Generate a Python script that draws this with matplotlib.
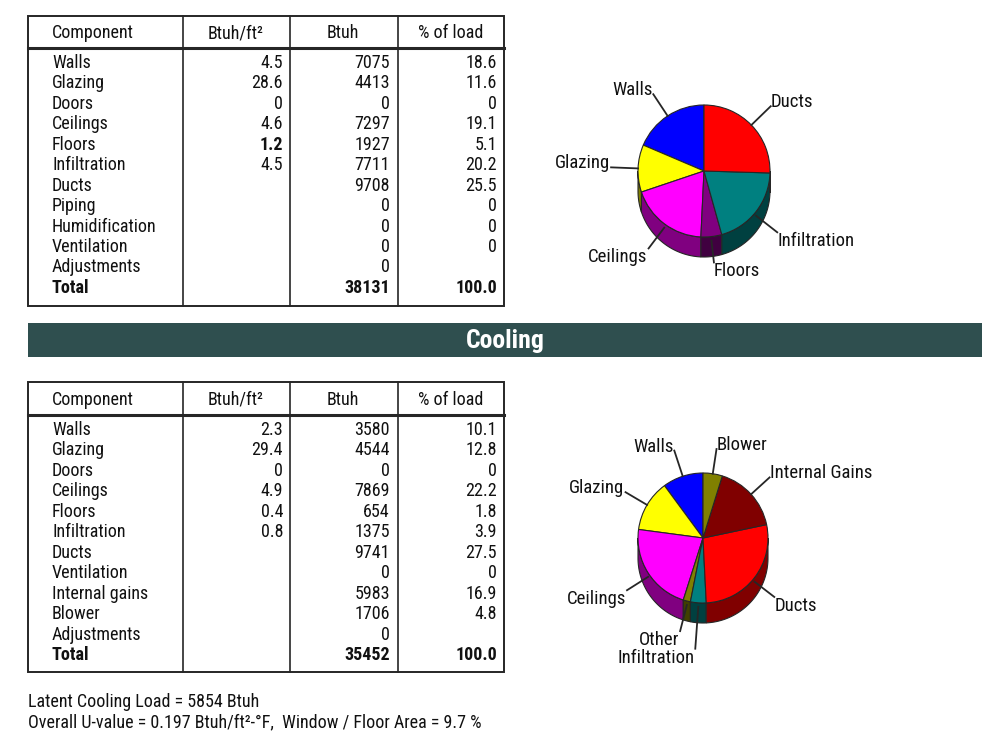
import numpy as np
import matplotlib
matplotlib.use('Agg')
import matplotlib.pyplot as plt
from matplotlib import font_manager
from matplotlib.colors import to_rgb
from matplotlib.patches import Rectangle, Polygon

W, H = 1000, 750

# --- heating table ---
heat_components = ['Walls', 'Glazing', 'Doors', 'Ceilings', 'Floors', 'Infiltration',
                   'Ducts', 'Piping', 'Humidification', 'Ventilation', 'Adjustments']
heat_btuh_ft2 = [4.5, 28.6, 0, 4.6, 1.2, 4.5, None, None, None, None, None]
heat_btuh = [7075, 4413, 0, 7297, 1927, 7711, 9708, 0, 0, 0, 0]
heat_pct = [18.6, 11.6, 0, 19.1, 5.1, 20.2, 25.5, 0, 0, 0, None]
heat_total_btuh = 38131
heat_total_pct = 100.0

# --- cooling table ---
cool_components = ['Walls', 'Glazing', 'Doors', 'Ceilings', 'Floors', 'Infiltration',
                   'Ducts', 'Ventilation', 'Internal gains', 'Blower', 'Adjustments']
cool_btuh_ft2 = [2.3, 29.4, 0, 4.9, 0.4, 0.8, None, None, None, None, None]
cool_btuh = [3580, 4544, 0, 7869, 654, 1375, 9741, 0, 5983, 1706, 0]
cool_pct = [10.1, 12.8, 0, 22.2, 1.8, 3.9, 27.5, 0, 16.9, 4.8, None]
cool_total_btuh = 35452
cool_total_pct = 100.0

# --- pies ---
heat_pie_labels = ['Walls', 'Glazing', 'Ceilings', 'Floors', 'Infiltration', 'Ducts']
heat_pie_values = [18.6, 11.6, 19.1, 5.1, 20.2, 25.5]
heat_pie_colors = ['#0000FF', '#FFFF00', '#FF00FF', '#800080', '#008080', '#FF0000']

cool_pie_labels = ['Walls', 'Glazing', 'Ceilings', 'Other', 'Infiltration', 'Ducts',
                   'Internal Gains', 'Blower']
cool_pie_values = [10.1, 12.8, 22.2, 1.8, 3.9, 27.5, 16.9, 4.8]
cool_pie_colors = ['#0000FF', '#FFFF00', '#FF00FF', '#808000', '#008080', '#FF0000',
                   '#800000', '#808000']

latent_load = 5854
u_value = 0.197
window_floor_pct = 9.7

# fonts: a narrow sans if there is one
names = {f.name for f in font_manager.fontManager.ttflist}
FONT, FS = 'Liberation Sans', 11.5
for fam, size in [('Roboto Condensed', 13), ('PT Sans Narrow', 14),
                  ('Archivo Narrow', 13)]:
    if fam in names:
        FONT, FS = fam, size
        break
plt.rcParams['font.family'] = [FONT, 'DejaVu Sans']

EDGE = '#262626'
INK = '#111111'


def Y(py):
    return H - py


def fmt(v, dec=True):
    if v is None:
        return ''
    if v == 0:
        return '0'
    return '{:.1f}'.format(v) if dec else '{:d}'.format(v)


def draw_table(ax, top, bottom, sep_y, head_y, row0, step,
               comps, per_ft2, btuh, pct, total_btuh, total_pct, bold_ft2=()):
    left, right = 28, 504
    cols = [183, 290, 398]
    ax.add_patch(Rectangle((left, Y(bottom)), right - left, bottom - top,
                           fill=False, ec=EDGE, lw=1.4))
    for c in cols:
        ax.plot([c, c], [Y(top), Y(bottom)], color=EDGE, lw=1.2)
    ax.plot([left, right], [Y(sep_y), Y(sep_y)], color=EDGE, lw=2.2)

    kw = dict(va='center', fontsize=FS, color=INK)
    ax.text(52, Y(head_y), 'Component', ha='left', **kw)
    for x, h in zip([236, 343, 451], ['Btuh/ft²', 'Btuh', '% of load']):
        ax.text(x, Y(head_y), h, ha='center', **kw)

    right_x = [283, 390, 497]
    for i, name in enumerate(comps):
        y = Y(row0 + i * step)
        ax.text(52, y, name, ha='left', **kw)
        ax.text(right_x[0], y, fmt(per_ft2[i]), ha='right',
                fontweight='bold' if name in bold_ft2 else 'normal', **kw)
        ax.text(right_x[1], y, fmt(btuh[i], dec=False), ha='right', **kw)
        ax.text(right_x[2], y, fmt(pct[i]), ha='right', **kw)
    y = Y(row0 + len(comps) * step)
    ax.text(52, y, 'Total', ha='left', fontweight='bold', **kw)
    ax.text(right_x[1], y, str(total_btuh), ha='right', fontweight='bold', **kw)
    ax.text(right_x[2], y, '{:.1f}'.format(total_pct), ha='right', fontweight='bold', **kw)


def darken(col, f=0.5):
    r, g, b = to_rgb(col)
    return (r * f, g * f, b * f)


def pie3d(ax, cx, cy, r, depth, values, colors, labels, line_lens):
    total = float(sum(values))
    spans = []
    a = 90.0
    for v in values:
        spans.append((a, a + 360.0 * v / total))
        a += 360.0 * v / total

    # visible side of the disc (lower half only)
    for (a1, a2), col in zip(spans, colors):
        lo, hi = max(a1, 180.0), min(a2, 360.0)
        if hi <= lo:
            continue
        t = np.radians(np.linspace(lo, hi, 60))
        xs = cx + r * np.cos(t)
        ys = Y(cy) + r * np.sin(t)
        pts = np.column_stack([np.r_[xs, xs[::-1]], np.r_[ys, ys[::-1] - depth]])
        ax.add_patch(Polygon(pts, closed=True, fc=darken(col), ec=EDGE, lw=0.8))

    ax.pie(values, colors=colors, startangle=90, counterclock=True,
           center=(cx, Y(cy)), radius=r, frame=True,
           wedgeprops=dict(edgecolor=EDGE, linewidth=0.8))

    for (a1, a2), lab, L in zip(spans, labels, line_lens):
        m = np.radians((a1 + a2) / 2.0)
        c, s = np.cos(m), np.sin(m)
        x0 = cx + r * c
        y0 = Y(cy) + r * s - (4 if s < 0 else 0)
        x1, y1 = x0 + L * c, y0 + L * s
        ax.plot([x0, x1], [y0, y1], color=EDGE, lw=1.3)
        ty = y1 + 4 if s > 0 else y1 - 9
        ax.text(x1 + (-1 if c < 0 else 0), ty, lab, ha='left' if c > 0 else 'right',
                va='center', fontsize=FS + 0.5, color=INK)


fig = plt.figure(figsize=(W / 100, H / 100), dpi=100)
ax = fig.add_axes([0, 0, 1, 1])

draw_table(ax, 16, 306, 48, 33, 63, 20.45,
           heat_components, heat_btuh_ft2, heat_btuh, heat_pct,
           heat_total_btuh, heat_total_pct, bold_ft2=('Floors',))

pie3d(ax, 704, 171, 66, 20, heat_pie_values, heat_pie_colors, heat_pie_labels,
      [26, 27, 26, 22, 27, 27])

# banner
ax.add_patch(Rectangle((28, Y(357)), 954, 34, fc='#2F4F4F', ec='none'))
ax.text(505, Y(341), 'Cooling', ha='center', va='center', color='white',
        fontsize=FS + 5.5, fontweight='bold')

draw_table(ax, 382, 672, 415, 400, 430, 20.45,
           cool_components, cool_btuh_ft2, cool_btuh, cool_pct,
           cool_total_btuh, cool_total_pct)

pie3d(ax, 703, 538, 65, 20, cool_pie_values, cool_pie_colors, cool_pie_labels,
      [27, 25, 25, 27, 42, 25, 25, 25])

ax.text(28, Y(702), 'Latent Cooling Load = {} Btuh'.format(latent_load),
        ha='left', va='center', fontsize=FS, color=INK)
ax.text(28, Y(722), 'Overall U-value = {} Btuh/ft²-°F,  Window / Floor Area = {} %'.format(
    u_value, window_floor_pct), ha='left', va='center', fontsize=FS, color=INK)

ax.set_xlim(0, W)
ax.set_ylim(0, H)
ax.set_axis_off()

fig.savefig('out.png', dpi=100, facecolor='white')
